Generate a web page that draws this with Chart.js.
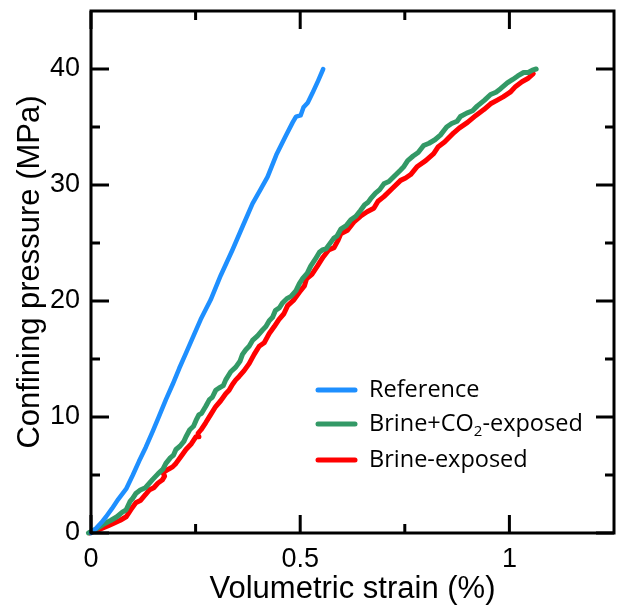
<!DOCTYPE html>
<html><head><meta charset="utf-8">
<script src="https://cdn.jsdelivr.net/npm/chart.js@4/dist/chart.umd.min.js"></script>
<style>html,body{margin:0;padding:0;background:#fff;} canvas{display:block;}</style>
</head><body>
<canvas id="c" width="622" height="612"></canvas>
<script>
// ---- data ----
const seriesNames = ['Reference', 'Brine+CO2-exposed', 'Brine-exposed'];
const seriesColors = ['#1E8FFF', '#339966', '#FF0000'];

const refStrain = [0,0.012,0.025,0.036,0.05,0.065,0.084,0.1,0.115,0.131,0.148,0.163,0.179,0.195,0.211,0.227,0.245,0.262,0.286,0.31,0.338,0.362,0.386,0.405,0.422,0.443,0.465,0.482,0.49,0.501,0.508,0.518,0.529,0.543,0.555];
const refPressure = [0,0.4,0.9,1.4,2.1,2.9,3.8,5.0,6.2,7.4,8.8,10.1,11.5,12.8,14.2,15.5,17.0,18.4,20.1,22.2,24.4,26.4,28.4,29.6,30.7,32.6,34.2,35.4,35.9,36.0,36.7,37.1,37.9,39.0,40.0];

const co2Strain = [-0.006,0.015,0.032,0.048,0.062,0.075,0.084,0.093,0.1,0.107,0.118,0.13,0.147,0.16,0.172,0.179,0.19,0.197,0.203,0.213,0.222,0.227,0.236,0.245,0.251,0.258,0.264,0.274,0.283,0.29,0.298,0.306,0.316,0.322,0.334,0.346,0.356,0.362,0.370,0.378,0.386,0.398,0.410,0.418,0.426,0.434,0.441,0.450,0.457,0.468,0.478,0.49,0.498,0.505,0.517,0.525,0.536,0.546,0.553,0.562,0.570,0.58,0.588,0.597,0.61,0.621,0.633,0.644,0.654,0.662,0.668,0.68,0.69,0.700,0.712,0.726,0.74,0.748,0.757,0.77,0.782,0.795,0.808,0.822,0.835,0.85,0.862,0.875,0.883,0.898,0.912,0.923,0.94,0.955,0.968,0.979,0.995,1.008,1.02,1.034,1.045,1.055,1.064];
const co2Pressure = [0,0.4,0.8,1.1,1.4,1.8,2.0,2.7,3.0,3.4,3.7,3.9,4.6,5.1,5.5,6.0,6.5,6.7,7.2,7.5,7.9,8.3,8.9,9.2,9.7,10.2,10.3,10.9,11.5,11.7,12.3,12.5,12.7,13.2,13.9,14.3,14.8,15.4,15.8,16.1,16.6,17.0,17.5,17.8,18.3,18.6,19.2,19.4,19.8,20.2,20.4,20.9,21.5,21.9,22.4,23.0,23.6,24.2,24.4,24.5,24.9,25.4,25.6,26.2,26.5,27.0,27.3,27.8,28.3,28.5,28.8,29.3,29.6,30.1,30.3,30.8,31.3,31.6,32.1,32.5,32.8,33.4,33.6,33.9,34.3,35.0,35.3,35.5,35.9,36.2,36.4,36.8,37.3,37.8,38.0,38.3,38.8,39.1,39.4,39.7,39.7,39.9,40.0];

const brineStrain = [-0.003,0.02,0.04,0.052,0.07,0.084,0.095,0.107,0.118,0.13,0.139,0.15,0.16,0.171,0.176,0.172,0.185,0.195,0.203,0.215,0.227,0.24,0.251,0.258,0.256,0.263,0.274,0.286,0.298,0.31,0.322,0.33,0.338,0.346,0.354,0.366,0.378,0.39,0.402,0.414,0.42,0.426,0.438,0.449,0.461,0.47,0.485,0.501,0.51,0.515,0.528,0.541,0.555,0.568,0.581,0.59,0.597,0.613,0.628,0.644,0.66,0.676,0.686,0.700,0.72,0.740,0.752,0.764,0.780,0.8,0.819,0.83,0.845,0.867,0.88,0.9,0.92,0.939,0.955,0.97,0.985,1.002,1.015,1.03,1.045,1.057];
const brinePressure = [0,0.3,0.6,0.8,1.1,1.4,2.0,2.6,2.8,3.3,3.7,3.9,4.3,4.6,4.9,5.2,5.5,5.7,6.0,6.6,7.2,7.7,8.3,8.3,8.6,8.9,9.5,10.2,10.9,11.4,12.0,12.3,12.8,13.2,13.5,14.0,14.6,15.4,16.1,16.4,16.8,17.2,17.8,18.4,18.9,19.6,20.1,20.9,21.3,21.9,22.3,23.0,23.8,24.4,24.6,25.2,25.8,26.1,26.8,27.3,27.7,28.0,28.6,29.0,29.7,30.4,30.6,30.9,31.6,32.1,32.7,33.3,33.7,34.5,34.9,35.4,36.0,36.5,37.0,37.3,37.6,38.0,38.5,38.9,39.2,39.6];

const xMajorTicks = [0, 0.5, 1];
const xMinorTicks = [0.25, 0.75];
const yMajorTicks = [0, 10, 20, 30, 40];
const yMinorTicks = [5, 15, 25, 35];

const toPts = (xs, ys) => xs.map((x, i) => ({x: x, y: ys[i]}));

const frame = {
  id: 'frame',
  afterDatasetsDraw(chart) {
    const {ctx, chartArea: a, scales: {x, y}} = chart;
    ctx.save();
    ctx.strokeStyle = '#000';
    ctx.lineWidth = 3;
    ctx.lineCap = 'butt';
    const vt = (v, len) => {
      const p = x.getPixelForValue(v);
      ctx.beginPath();
      ctx.moveTo(p, a.bottom); ctx.lineTo(p, a.bottom - len);
      ctx.moveTo(p, a.top); ctx.lineTo(p, a.top + len);
      ctx.stroke();
    };
    const ht = (v, len) => {
      const p = y.getPixelForValue(v);
      ctx.beginPath();
      ctx.moveTo(a.left, p); ctx.lineTo(a.left + len, p);
      ctx.moveTo(a.right, p); ctx.lineTo(a.right - len, p);
      ctx.stroke();
    };
    xMajorTicks.forEach(v => vt(v, 18));
    xMinorTicks.forEach(v => vt(v, 9));
    yMajorTicks.forEach(v => ht(v, 18));
    yMinorTicks.forEach(v => ht(v, 9));
    ctx.strokeRect(a.left, a.top, a.right - a.left, a.bottom - a.top);

    // legend
    const lx0 = a.left + 227, lx1 = a.left + 264, tx = a.left + 278;
    const rows = [a.top + 379, a.top + 413, a.top + 449];
    ctx.lineCap = 'round';
    ctx.lineWidth = 5;
    ctx.textBaseline = 'middle';
    ctx.fillStyle = '#000';
    const big = '23.5px "Open Sans"', small = '15px "Open Sans"';
    seriesNames.forEach((name, i) => {
      const yy = rows[i];
      ctx.strokeStyle = seriesColors[i];
      ctx.beginPath(); ctx.moveTo(lx0, yy); ctx.lineTo(lx1, yy); ctx.stroke();
      ctx.font = big;
      if (name.indexOf('CO2') >= 0) {
        const p1 = 'Brine+CO', p3 = '-exposed';
        ctx.fillText(p1, tx, yy);
        let w = ctx.measureText(p1).width;
        ctx.font = small;
        ctx.fillText('2', tx + w, yy + 8);
        w += ctx.measureText('2').width;
        ctx.font = big;
        ctx.fillText(p3, tx + w, yy);
      } else {
        ctx.fillText(name, tx, yy);
      }
    });
    ctx.restore();
  }
};

const FAM = '"Liberation Sans", Arial, sans-serif';

new Chart(document.getElementById('c'), {
  type: 'scatter',
  data: {
    datasets: [
      {label: seriesNames[0], data: toPts(refStrain, refPressure), borderColor: seriesColors[0], borderWidth: 4.5},
      {label: seriesNames[1], data: toPts(co2Strain, co2Pressure), borderColor: seriesColors[1], borderWidth: 5},
      {label: seriesNames[2], data: toPts(brineStrain, brinePressure), borderColor: seriesColors[2], borderWidth: 5}
    ].map(d => Object.assign(d, {showLine: true, pointRadius: 0, tension: 0, clip: false,
      borderCapStyle: 'round', borderJoinStyle: 'round', backgroundColor: d.borderColor}))
  },
  options: {
    responsive: false,
    animation: false,
    events: [],
    layout: {padding: {left: 8, right: 8, top: 11, bottom: 0}},
    plugins: {legend: {display: false}, tooltip: {enabled: false}},
    scales: {
      x: {
        type: 'linear', min: 0, max: 1.25,
        afterBuildTicks: s => { s.ticks = xMajorTicks.map(v => ({value: v})); },
        afterFit: s => { s.height = 79; s.paddingLeft = 0; s.paddingRight = 0; },
        grid: {display: false, drawTicks: false},
        border: {display: false},
        ticks: {color: '#000', padding: 10, maxRotation: 0, callback: v => String(v), font: {family: FAM, size: 27}},
        title: {display: true, text: 'Volumetric strain (%)', color: '#000', font: {family: FAM, size: 31}}
      },
      y: {
        type: 'linear', min: 0, max: 45,
        afterBuildTicks: s => { s.ticks = yMajorTicks.map(v => ({value: v})); },
        afterFit: s => { s.width = 83; s.paddingTop = 0; s.paddingBottom = 0; },
        grid: {display: false, drawTicks: false},
        border: {display: false},
        ticks: {color: '#000', padding: 11, callback: v => String(v), font: {family: FAM, size: 27}},
        title: {display: true, text: 'Confining pressure (MPa)', color: '#000', font: {family: FAM, size: 31}}
      }
    }
  },
  plugins: [frame]
});
</script>
</body></html>
